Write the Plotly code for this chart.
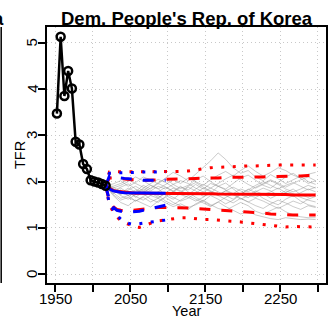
import plotly.graph_objects as go

# ---------------- data ----------------
obs_years = [1952.5, 1957.5, 1962.5, 1967.5, 1972.5, 1977.5, 1982.5, 1987.5,
             1992.5, 1997.5, 2002.5, 2007.5, 2012.5, 2017.5]
obs_tfr = [3.47, 5.13, 3.85, 4.39, 4.01, 2.86, 2.80, 2.38, 2.27, 2.03,
           2.00, 1.98, 1.95, 1.91]

blue_years = [2017.5, 2022.5, 2027.5, 2032.5, 2037.5, 2042.5, 2047.5, 2052.5,
              2057.5, 2062.5, 2067.5, 2072.5, 2077.5, 2082.5, 2087.5, 2092.5, 2097.5]
blue_median = [1.91, 1.84, 1.80, 1.78, 1.77, 1.76, 1.76, 1.75, 1.75, 1.75,
               1.75, 1.75, 1.75, 1.75, 1.75, 1.75, 1.75]
blue_lo80 = [1.91, 1.60, 1.45, 1.38, 1.36, 1.35, 1.35, 1.35, 1.35, 1.36,
             1.38, 1.40, 1.42, 1.44, 1.46, 1.48, 1.49]
blue_hi80 = [1.91, 2.12, 2.11, 2.09, 2.08, 2.07, 2.06, 2.05, 2.04, 2.04,
             2.03, 2.03, 2.03, 2.03, 2.03, 2.03, 2.03]
blue_lo95 = [1.91, 1.52, 1.40, 1.28, 1.19, 1.13, 1.10, 1.08, 1.08, 1.09,
             1.10, 1.12, 1.13, 1.14, 1.15, 1.16, 1.17]
blue_hi95 = [1.91, 2.18, 2.19, 2.19, 2.19, 2.20, 2.20, 2.20, 2.20, 2.20,
             2.21, 2.21, 2.21, 2.21, 2.21, 2.21, 2.21]

red_years = [2017.5, 2022.5, 2027.5, 2032.5, 2037.5, 2042.5, 2047.5, 2052.5,
             2057.5, 2062.5, 2067.5, 2072.5, 2077.5, 2082.5, 2087.5, 2092.5, 2097.5,
             2107.5, 2117.5, 2127.5, 2137.5, 2147.5, 2157.5, 2167.5, 2177.5,
             2187.5, 2197.5, 2207.5, 2217.5, 2227.5, 2237.5, 2247.5, 2257.5,
             2267.5, 2277.5, 2287.5, 2297.5]
red_median = [1.91, 1.85, 1.81, 1.79, 1.78, 1.77, 1.76, 1.76, 1.75, 1.75,
              1.75, 1.75, 1.75, 1.75, 1.75, 1.75, 1.75,
              1.75, 1.74, 1.74, 1.74, 1.74, 1.74, 1.73, 1.73, 1.73, 1.73,
              1.73, 1.72, 1.72, 1.72, 1.72, 1.72, 1.71, 1.71, 1.71, 1.71]
red_lo80 = [1.91, 1.57, 1.46, 1.40, 1.38, 1.37, 1.37, 1.38, 1.39, 1.40,
            1.40, 1.41, 1.42, 1.43, 1.44, 1.44, 1.44,
            1.44, 1.44, 1.43, 1.42, 1.41, 1.40, 1.39, 1.37, 1.36, 1.35,
            1.34, 1.33, 1.32, 1.30, 1.29, 1.28, 1.28, 1.28, 1.28, 1.28]
red_hi80 = [1.91, 2.08, 2.08, 2.07, 2.06, 2.06, 2.05, 2.04, 2.04, 2.03,
            2.03, 2.03, 2.03, 2.04, 2.04, 2.05, 2.05,
            2.05, 2.06, 2.06, 2.07, 2.07, 2.08, 2.08, 2.09, 2.09, 2.10,
            2.10, 2.10, 2.10, 2.11, 2.11, 2.12, 2.12, 2.12, 2.13, 2.13]
red_lo95 = [1.91, 1.50, 1.35, 1.24, 1.16, 1.11, 1.08, 1.05, 1.02, 1.01,
            1.04, 1.08, 1.11, 1.13, 1.15, 1.16, 1.17,
            1.20, 1.22, 1.22, 1.20, 1.18, 1.18, 1.17, 1.16, 1.14, 1.13,
            1.11, 1.09, 1.08, 1.05, 1.04, 1.02, 1.03, 1.03, 1.02, 1.02]
red_hi95 = [1.91, 2.21, 2.21, 2.21, 2.21, 2.21, 2.21, 2.21, 2.21, 2.21,
            2.21, 2.21, 2.21, 2.21, 2.21, 2.21, 2.21,
            2.21, 2.22, 2.23, 2.26, 2.28, 2.30, 2.31, 2.32, 2.33, 2.34,
            2.34, 2.34, 2.35, 2.35, 2.36, 2.36, 2.36, 2.36, 2.37, 2.36]

traj_years = [2017.5, 2027.5, 2037.5, 2047.5, 2057.5, 2067.5, 2077.5, 2087.5,
              2097.5, 2107.5, 2117.5, 2127.5, 2137.5, 2147.5, 2157.5, 2167.5,
              2177.5, 2187.5, 2197.5, 2207.5, 2217.5, 2227.5, 2237.5, 2247.5,
              2257.5, 2267.5, 2277.5, 2287.5, 2297.5]
trajectories = [
    [1.91,1.85,1.72,1.80,1.66,1.78,1.92,1.85,1.70,1.62,1.75,1.88,1.80,1.68,1.74,1.90,1.97,1.84,1.72,1.65,1.78,1.86,1.80,1.70,1.76,1.84,1.72,1.66,1.74],
    [1.91,1.95,2.02,1.90,1.98,2.10,2.04,1.95,2.08,2.20,2.12,2.02,2.16,2.30,2.45,2.62,2.48,2.30,2.18,2.24,2.10,2.02,2.15,2.06,1.96,2.04,2.12,2.00,1.94],
    [1.91,1.70,1.55,1.48,1.60,1.52,1.45,1.58,1.66,1.55,1.48,1.40,1.52,1.60,1.50,1.42,1.38,1.46,1.55,1.48,1.36,1.30,1.38,1.45,1.35,1.28,1.24,1.22,1.22],
    [1.91,1.80,1.88,1.95,1.84,1.76,1.86,1.98,2.06,1.94,1.85,1.92,2.04,2.12,2.00,1.90,1.84,1.96,2.08,2.14,2.02,1.92,1.86,1.98,2.10,2.18,2.06,1.96,2.02],
    [1.91,1.76,1.64,1.70,1.82,1.74,1.62,1.55,1.68,1.80,1.90,1.78,1.66,1.58,1.70,1.62,1.52,1.60,1.72,1.84,1.76,1.64,1.56,1.50,1.62,1.70,1.58,1.50,1.46],
    [1.91,1.88,1.78,1.70,1.75,1.86,1.96,2.05,1.98,1.88,1.80,1.72,1.84,1.94,1.86,1.78,1.70,1.62,1.74,1.82,1.92,2.00,1.92,1.84,1.92,1.98,1.90,1.82,1.88],
    [1.91,1.72,1.60,1.66,1.58,1.68,1.76,1.70,1.58,1.50,1.60,1.70,1.62,1.54,1.46,1.56,1.66,1.74,1.64,1.56,1.48,1.42,1.52,1.60,1.54,1.46,1.40,1.48,1.44],
    [1.91,1.90,1.96,2.04,1.96,1.88,1.80,1.90,1.84,1.94,2.02,1.96,1.86,1.78,1.86,1.96,2.06,2.14,2.04,1.94,1.86,1.94,2.02,1.94,1.84,1.78,1.84,1.92,1.86],
    [1.91,1.82,1.70,1.62,1.72,1.84,1.76,1.66,1.74,1.66,1.58,1.64,1.76,1.86,1.78,1.70,1.80,1.72,1.62,1.70,1.66,1.74,1.64,1.72,1.80,1.74,1.66,1.60,1.56],
    [1.91,1.78,1.86,1.76,1.68,1.60,1.70,1.64,1.76,1.86,1.78,1.90,1.98,1.88,1.80,1.72,1.80,1.88,1.80,1.70,1.80,1.72,1.78,1.86,1.76,1.68,1.76,1.84,1.78],
    [1.91,1.84,1.74,1.82,1.90,1.80,1.70,1.78,1.88,1.80,1.72,1.66,1.58,1.66,1.78,1.70,1.62,1.54,1.64,1.56,1.64,1.58,1.50,1.42,1.50,1.58,1.52,1.62,1.68],
    [1.91,1.86,1.92,2.00,2.10,2.02,1.92,1.84,1.94,2.04,1.96,2.08,2.00,1.92,2.04,2.14,2.22,2.12,2.24,2.34,2.22,2.12,2.20,2.30,2.24,2.14,2.08,2.16,2.20],
    [1.91,1.74,1.82,1.70,1.58,1.66,1.56,1.64,1.54,1.46,1.52,1.44,1.50,1.58,1.48,1.56,1.46,1.38,1.30,1.36,1.28,1.24,1.20,1.18,1.22,1.20,1.18,1.19,1.18],
    [1.91,1.80,1.74,1.86,1.78,1.92,1.84,1.96,1.88,1.78,1.88,1.82,1.94,1.84,1.96,1.90,1.82,1.74,1.84,1.78,1.88,1.96,2.04,1.96,1.88,1.96,2.04,2.10,2.02],
]

x_ticks = [1950, 2000, 2050, 2100, 2150, 2200, 2250, 2300]
x_ticktext = ["1950", "", "2050", "", "2150", "", "2250", ""]
y_ticks = [0, 1, 2, 3, 4, 5]

title_text = "Dem. People's Rep. of Korea"
x_title = "Year"
y_title = "TFR"

# ---------------- figure ----------------
W, H = 328, 317
FONT = "Liberation Sans, Arial, Helvetica, sans-serif"
RED = "#FF0000"
BLUE = "#0000FF"
DASH = "11px,11px"
DOT = "3px,8.5px"
XRANGE = [1939.3, 2311.3]
YRANGE = [-0.19, 5.34]

fig = go.Figure()

for tr in trajectories:
    fig.add_trace(go.Scatter(x=traj_years, y=tr, mode="lines",
                             line=dict(color="rgba(140,140,140,0.45)", width=1),
                             hoverinfo="skip", showlegend=False))

for ys, dash in [(red_median, "solid"), (red_lo80, DASH), (red_hi80, DASH),
                 (red_lo95, DOT), (red_hi95, DOT)]:
    fig.add_trace(go.Scatter(x=red_years, y=ys, mode="lines",
                             line=dict(color=RED, width=3, dash=dash),
                             showlegend=False))

for ys, dash in [(blue_median, "solid"), (blue_lo80, DASH), (blue_hi80, DASH),
                 (blue_lo95, DOT), (blue_hi95, DOT)]:
    fig.add_trace(go.Scatter(x=blue_years, y=ys, mode="lines",
                             line=dict(color=BLUE, width=3, dash=dash),
                             showlegend=False))

fig.add_trace(go.Scatter(x=obs_years, y=obs_tfr, mode="lines+markers",
                         line=dict(color="black", width=2.5),
                         marker=dict(symbol="circle-open", size=8, color="black",
                                     line=dict(width=2.5, color="black")),
                         showlegend=False))

x0p, x1p = 47 / W, 326 / W
y0p, y1p = 1 - 283 / H, 1 - 27 / H

grid = dict(showgrid=True, gridcolor="#C8C8C8", griddash="1px,3px", gridwidth=1)

fig.update_layout(
    width=W, height=H, autosize=False,
    margin=dict(l=0, r=0, t=0, b=0, pad=0),
    paper_bgcolor="white", plot_bgcolor="white",
    font=dict(family=FONT, size=15, color="black"),
    showlegend=False,
    xaxis=dict(domain=[x0p, x1p], range=XRANGE, automargin=False,
               tickmode="array", tickvals=x_ticks, showticklabels=False,
               ticks="outside", ticklen=7, tickwidth=1.5, tickcolor="black",
               showline=True, mirror=True, linecolor="black", linewidth=1.5,
               zeroline=False, **grid),
    yaxis=dict(domain=[y0p, y1p], range=YRANGE, automargin=False,
               tickmode="array", tickvals=y_ticks, showticklabels=False,
               ticks="outside", ticklen=7, tickwidth=1.5, tickcolor="black",
               showline=True, mirror=True, linecolor="black", linewidth=1.5,
               zeroline=False, **grid),
)

# tick labels, placed on the axes' own scales
for v, t in zip(x_ticks, x_ticktext):
    if t:
        fig.add_annotation(text=t, xref="x", yref="paper", x=v, y=1 - 298 / H,
                           xanchor="center", yanchor="middle", showarrow=False,
                           font=dict(size=15, family=FONT))
for v in y_ticks:
    fig.add_annotation(text=str(v), xref="paper", yref="y", x=31.7 / W, y=v,
                       textangle=-90, xanchor="center", yanchor="middle",
                       showarrow=False, font=dict(size=15, family=FONT))

fig.add_annotation(text="<b>" + title_text + "</b>", xref="paper", yref="paper",
                   x=186.5 / W, y=1 - 18.6 / H, xanchor="center", yanchor="middle",
                   showarrow=False, font=dict(size=18.5, family=FONT))
fig.add_annotation(text=x_title, xref="paper", yref="paper",
                   x=186.5 / W, y=1 - 310.5 / H, xanchor="center", yanchor="middle",
                   showarrow=False, font=dict(size=14.5, family=FONT))
fig.add_annotation(text=y_title, xref="paper", yref="paper", textangle=-90,
                   x=20 / W, y=1 - 155 / H, xanchor="center", yanchor="middle",
                   showarrow=False, font=dict(size=14.5, family=FONT))
# fragment of the neighbouring panel at the left edge
fig.add_annotation(text="<b>a</b>", xref="paper", yref="paper",
                   x=5.5 / W, y=1 - 18.6 / H, xanchor="right", yanchor="middle",
                   showarrow=False, font=dict(size=18.5, family=FONT))
fig.add_shape(type="line", xref="paper", yref="paper",
              x0=1.2 / W, x1=1.2 / W, y0=y0p, y1=y1p,
              line=dict(color="black", width=1.5))

fig.write_html("out.html", config={"displayModeBar": False},
               post_script="document.body.style.margin='0px';"
                           "document.body.style.padding='0px';"
                           "document.body.style.overflow='hidden';")
